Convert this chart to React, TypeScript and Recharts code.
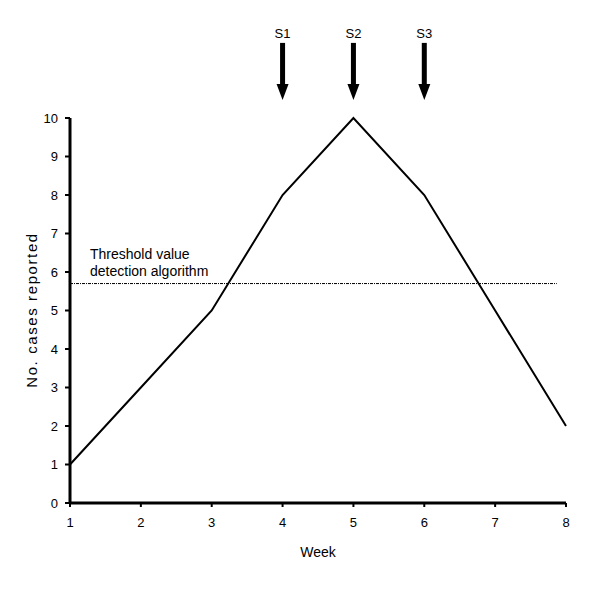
import {
  LineChart,
  Line,
  XAxis,
  YAxis,
  ReferenceLine,
  ReferenceDot,
} from "recharts";

const weeks = [1, 2, 3, 4, 5, 6, 7, 8];
const casesReported = [1, 3, 5, 8, 10, 8, 5, 2];
const yTicks = [0, 1, 2, 3, 4, 5, 6, 7, 8, 9, 10];
const thresholdValue = 5.7;
const thresholdEndWeek = 7.87;
const signalWeeks = [4, 5, 6];
const signalLabels = ["S1", "S2", "S3"];
const arrowTipValue = 10.47;

const data = weeks.map((week, i) => ({ week, cases: casesReported[i] }));

const FONT = "Liberation Sans, Arial, sans-serif";

function ArrowShape(props: any) {
  const { cx, cy, label } = props;
  return (
    <g>
      <text
        x={cx}
        y={cy - 62}
        textAnchor="middle"
        fontSize={13}
        fontFamily={FONT}
        fill="#000"
      >
        {label}
      </text>
      <rect x={cx - 2.5} y={cy - 57} width={5} height={42} fill="#000" />
      <polygon
        points={`${cx - 6},${cy - 16} ${cx + 6},${cy - 16} ${cx},${cy}`}
        fill="#000"
      />
    </g>
  );
}

function WeekLabel(props: any) {
  const { viewBox } = props;
  return (
    <text
      x={viewBox.x + viewBox.width / 2}
      y={557}
      textAnchor="middle"
      fontSize={14}
      fontFamily={FONT}
      fill="#000"
    >
      Week
    </text>
  );
}

function CasesLabel() {
  return (
    <text
      x={37}
      y={310}
      transform="rotate(-90 37 310)"
      textAnchor="middle"
      fontSize={15}
      letterSpacing={1.6}
      fontFamily={FONT}
      fill="#000"
    >
      No. cases reported
    </text>
  );
}

function ThresholdLabel(props: any) {
  const { viewBox } = props;
  const x = viewBox.x + 20;
  return (
    <text fontSize={14} fontFamily={FONT} fill="#000">
      <tspan x={x} y={259}>
        Threshold value
      </tspan>
      <tspan x={x} y={276}>
        detection algorithm
      </tspan>
    </text>
  );
}

export default function App() {
  return (
    <div style={{ position: "absolute", left: 0, top: 0, background: "#fff" }}>
      <LineChart
        width={600}
        height={589}
        data={data}
        margin={{ top: 118, right: 34, bottom: 0, left: 0 }}
      >
        <XAxis
          dataKey="week"
          type="number"
          domain={[1, 8]}
          ticks={weeks}
          height={86}
          axisLine={{ stroke: "#000", strokeWidth: 3 }}
          tickLine={{ stroke: "#000", strokeWidth: 2 }}
          tickSize={4}
          tickMargin={11}
          tick={{ fill: "#000", fontSize: 13, fontFamily: FONT }}
          label={<WeekLabel />}
        />
        <YAxis
          type="number"
          domain={[0, 10]}
          ticks={yTicks}
          width={70}
          axisLine={{ stroke: "#000", strokeWidth: 3 }}
          tickLine={{ stroke: "#000", strokeWidth: 2 }}
          tickSize={5}
          tickMargin={7}
          tick={{ fill: "#000", fontSize: 13, fontFamily: FONT }}
          label={<CasesLabel />}
        />
        <ReferenceLine
          segment={[
            { x: 1, y: thresholdValue },
            { x: thresholdEndWeek, y: thresholdValue },
          ]}
          stroke="#000"
          strokeWidth={1}
          strokeDasharray="3 1 1 1"
          label={<ThresholdLabel />}
        />
        <Line
          type="linear"
          dataKey="cases"
          stroke="#000"
          strokeWidth={2}
          dot={false}
          activeDot={false}
          isAnimationActive={false}
        />
        {signalWeeks.map((w, i) => (
          <ReferenceDot
            key={signalLabels[i]}
            x={w}
            y={arrowTipValue}
            ifOverflow="visible"
            shape={(p: any) => <ArrowShape {...p} label={signalLabels[i]} />}
          />
        ))}
      </LineChart>
    </div>
  );
}
